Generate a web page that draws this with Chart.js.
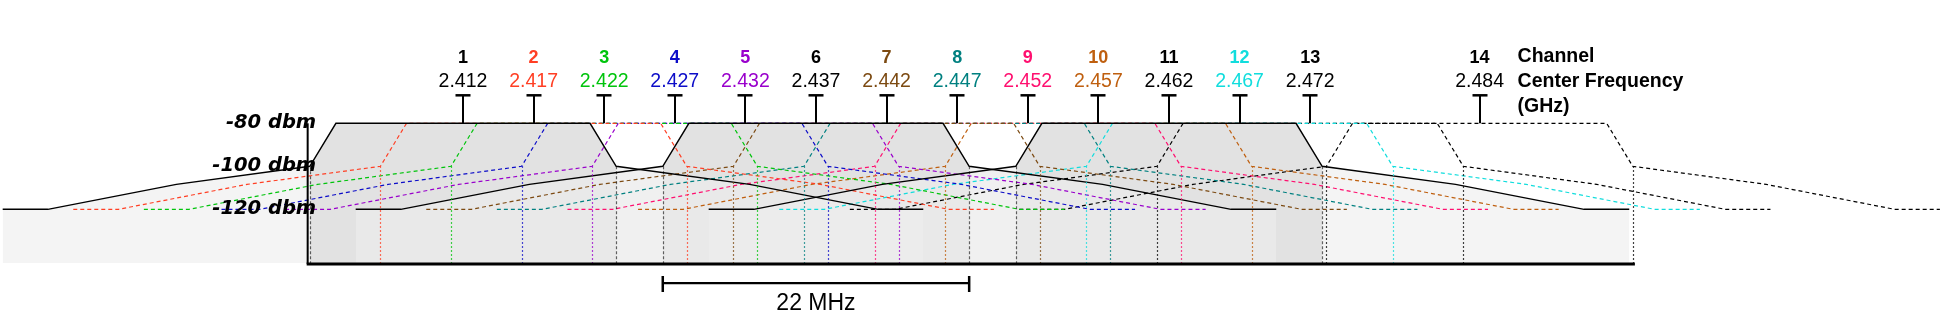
<!DOCTYPE html>
<html lang="en">
<head>
  <meta charset="UTF-8" />
  <title>2.4 GHz Wi-Fi channels</title>
  <script src="https://cdn.jsdelivr.net/npm/chart.js"></script>
  <style>
    html, body {
      margin: 0;
      padding: 0;
      background: #fff;
    }
    canvas {
      display: block;
    }
  </style>
</head>
<body>
  <canvas id="canales" width="1942" height="328"></canvas>

  <script>
    const channels = [1, 2, 3, 4, 5, 6, 7, 8, 9, 10, 11, 12, 13, 14];
    const centerFreqs = [2412, 2417, 2422, 2427, 2432, 2437, 2442, 2447, 2452, 2457, 2462, 2467, 2472, 2484]; // MHz
    const freqLabels = ["2.412", "2.417", "2.422", "2.427", "2.432", "2.437", "2.442", "2.447", "2.452", "2.457", "2.462", "2.467", "2.472", "2.484"];
    const channelColors = ["#000000", "#ff3f24", "#00c40c", "#0c0cc8", "#9900cc", "#000000", "#7c4a12",
                           "#008080", "#ff0f6f", "#bf5f0f", "#000000", "#11dddd", "#000000", "#000000"];
    const solidChannels = [1, 6, 11];

    // spectral mask, offset from the center (MHz) and level (dBm)
    const maskOffsets = [-32.6, -29.4, -20.3, -10.85, -9, 9, 10.85, 20.3, 29.4, 32.6];
    const maskLevels = [-120, -120, -108.4, -100, -80, -80, -100, -108.4, -120, -120];

    const dbmTicks = [-80, -100, -120];
    const dbmLabels = ["-80 dbm", "-100 dbm", "-120 dbm"];
    const floorLevel = -145;
    const bandStart = 2401;
    const bandEnd = 2495;
    const spanFrom = 2426.15;
    const spanTo = 2447.85;
    const spanLabel = "22 MHz";
    const sideLabels = ["Channel", "Center Frequency", "(GHz)"];

    const datasets = [];
    channels.forEach((ch, i) => {
      const c = centerFreqs[i];
      const pts = maskOffsets.map((o, k) => ({ x: c + o, y: maskLevels[k] }));
      if (solidChannels.includes(ch)) {
        datasets.push({ data: pts.slice(3, 7), fill: { value: floorLevel }, backgroundColor: "#e2e2e2", borderWidth: 0, order: 40 });
        datasets.push({ data: pts.slice(0, 4), fill: { value: floorLevel }, backgroundColor: "rgba(237,237,237,0.62)", borderWidth: 0, order: 30 });
        datasets.push({ data: pts.slice(6), fill: { value: floorLevel }, backgroundColor: "rgba(237,237,237,0.62)", borderWidth: 0, order: 30 });
        datasets.push({ data: pts, borderColor: "#000", borderWidth: 1.4, fill: false, order: 10 });
      } else {
        datasets.push({ data: pts, borderColor: channelColors[i], borderWidth: 1.2, borderDash: [4, 3], fill: false, order: 20 });
      }
    });

    const dibujo = {
      id: "dibujo",
      afterDatasetsDraw(chart) {
        const { ctx, scales: { x, y } } = chart;
        ctx.save();

        // lineas verticales desde el quiebre de -100 hasta el piso
        channels.forEach((ch, i) => {
          const solid = solidChannels.includes(ch);
          [maskOffsets[3], maskOffsets[6]].forEach(o => {
            const px = Math.round(x.getPixelForValue(centerFreqs[i] + o)) + 0.5;
            ctx.beginPath();
            ctx.setLineDash(solid ? [3, 2] : [1.5, 2.5]);
            ctx.strokeStyle = solid ? "rgba(0,0,0,0.6)" : channelColors[i];
            ctx.lineWidth = 1.2;
            ctx.moveTo(px, y.getPixelForValue(maskLevels[3]));
            ctx.lineTo(px, y.getPixelForValue(floorLevel));
            ctx.stroke();
          });
        });
        ctx.setLineDash([]);

        // ejes
        const x0 = x.getPixelForValue(bandStart);
        const x1 = x.getPixelForValue(bandEnd);
        const yTop = y.getPixelForValue(dbmTicks[0]);
        const yFloor = y.getPixelForValue(floorLevel);
        ctx.strokeStyle = "#000";
        ctx.lineWidth = 2;
        ctx.beginPath();
        ctx.moveTo(x0, yTop);
        ctx.lineTo(x0, yFloor + 1);
        ctx.stroke();
        ctx.lineWidth = 3;
        ctx.beginPath();
        ctx.moveTo(x0 - 1, yFloor + 1);
        ctx.lineTo(x1, yFloor + 1);
        ctx.stroke();

        // marcas en T de cada canal
        const tickTop = yTop - 28;
        centerFreqs.forEach(f => {
          const px = Math.round(x.getPixelForValue(f));
          ctx.lineWidth = 2;
          ctx.beginPath();
          ctx.moveTo(px, yTop);
          ctx.lineTo(px, tickTop);
          ctx.stroke();
          ctx.lineWidth = 2.5;
          ctx.beginPath();
          ctx.moveTo(px - 7.5, tickTop);
          ctx.lineTo(px + 7.5, tickTop);
          ctx.stroke();
        });

        // barra de 22 MHz
        const s0 = x.getPixelForValue(spanFrom);
        const s1 = x.getPixelForValue(spanTo);
        const sy = yFloor + 20;
        ctx.lineWidth = 2.2;
        ctx.beginPath();
        ctx.moveTo(s0, sy);
        ctx.lineTo(s1, sy);
        ctx.stroke();
        ctx.lineWidth = 2.5;
        ctx.beginPath();
        ctx.moveTo(s0, sy - 7);
        ctx.lineTo(s0, sy + 9);
        ctx.moveTo(s1, sy - 7);
        ctx.lineTo(s1, sy + 9);
        ctx.stroke();
        ctx.restore();
      },
      afterDraw(chart) {
        const { ctx, scales: { x, y } } = chart;
        ctx.save();
        const yTop = y.getPixelForValue(dbmTicks[0]);

        ctx.textAlign = "center";
        ctx.textBaseline = "alphabetic";
        channels.forEach((ch, i) => {
          const px = x.getPixelForValue(centerFreqs[i]);
          ctx.fillStyle = channelColors[i];
          ctx.font = 'bold 18px "Liberation Sans", sans-serif';
          ctx.fillText(String(ch), px, yTop - 60.6);
          ctx.font = '19.5px "Liberation Sans", sans-serif';
          ctx.fillText(freqLabels[i], px, yTop - 36.6);
        });

        ctx.fillStyle = "#000";
        ctx.textAlign = "left";
        ctx.font = 'bold 19.5px "Liberation Sans", sans-serif';
        const lx = x.getPixelForValue(centerFreqs[13]) + 38;
        sideLabels.forEach((t, k) => {
          ctx.fillText(t, lx, yTop - 61 + k * 25);
        });

        ctx.textAlign = "right";
        ctx.font = 'italic bold 19.5px "DejaVu Sans", sans-serif';
        const ax = x.getPixelForValue(bandStart) + 8.5;
        dbmTicks.forEach((v, k) => {
          ctx.fillText(dbmLabels[k], ax, y.getPixelForValue(v) + 4.5);
        });

        ctx.textAlign = "center";
        ctx.font = '23px "Liberation Sans", sans-serif';
        const mid = (x.getPixelForValue(spanFrom) + x.getPixelForValue(spanTo)) / 2;
        ctx.fillText(spanLabel, mid, y.getPixelForValue(floorLevel) + 47);
        ctx.restore();
      }
    };

    new Chart(document.getElementById("canales"), {
      type: "line",
      data: { datasets },
      options: {
        responsive: false,
        animation: false,
        events: [],
        layout: { padding: 0 },
        elements: {
          point: { radius: 0 },
          line: { tension: 0 }
        },
        scales: {
          x: { type: "linear", min: 2379.21, max: 2516.75, display: false },
          y: { min: -175.2, max: -22.65, display: false }
        },
        plugins: {
          legend: { display: false },
          tooltip: { enabled: false }
        }
      },
      plugins: [dibujo]
    });
  </script>
</body>
</html>
